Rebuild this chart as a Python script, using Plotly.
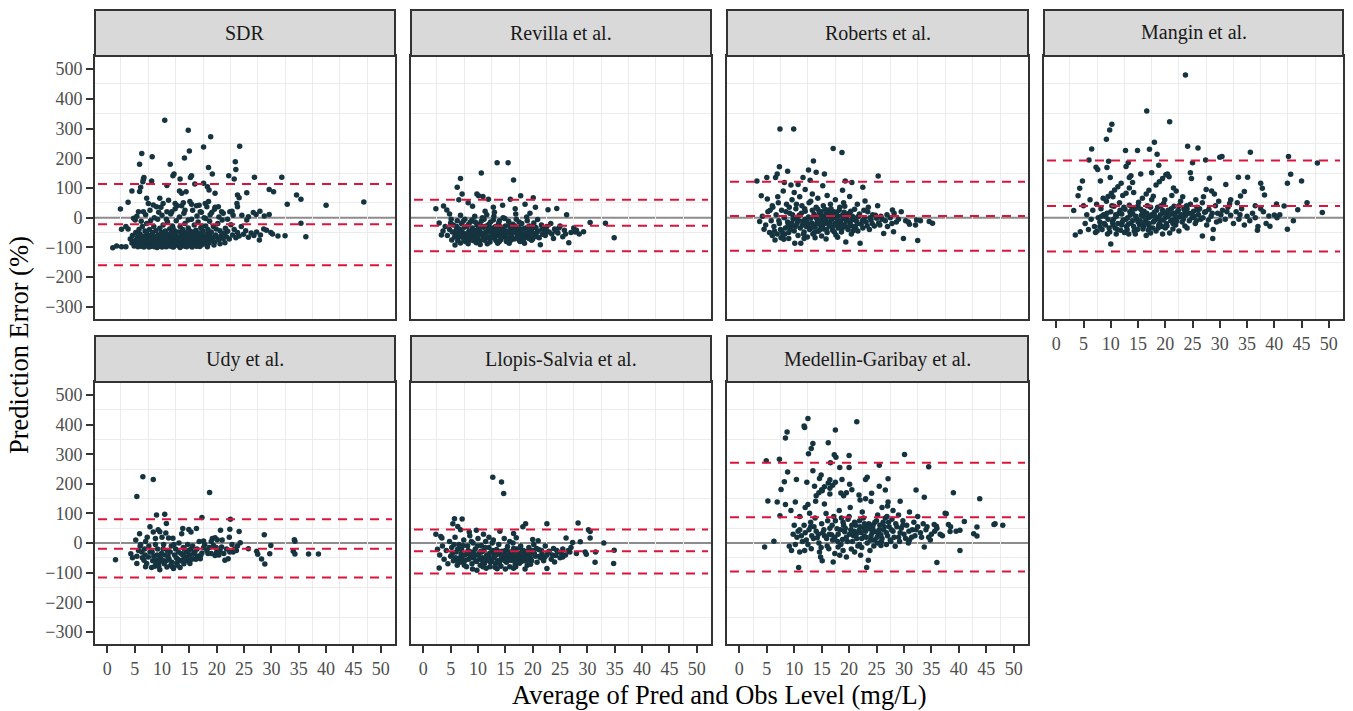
import plotly.graph_objects as go

W, H = 1353, 711

panel_names = ["SDR", "Revilla et al.", "Roberts et al.", "Mangin et al.",
               "Udy et al.", "Llopis-Salvia et al.", "Medellin-Garibay et al."]

# Bland-Altman limits (upper LoA, mean bias, lower LoA) in %
loa_upper = [113, 60, 121, 192, 80, 46, 271]
bias_mean = [-22, -27, 6, 39, -19, -28, 87]
loa_lower = [-160, -113, -111, -114, -116, -103, -96]

x_ticks = [0, 5, 10, 15, 20, 25, 30, 35, 40, 45, 50]
y_ticks = [-300, -200, -100, 0, 100, 200, 300, 400, 500]
x_minor = [2.5, 7.5, 12.5, 17.5, 22.5, 27.5, 32.5, 37.5, 42.5, 47.5, 52.5]
y_minor = [-250, -150, -50, 50, 150, 250, 350, 450]

sdr_pts = [
    (10.5,328),(14.8,294),(18.9,272),(17.6,238),(24.2,240),(6.3,216),(8.2,205),(5.9,180),(11.5,180),(14.1,201),
    (15.0,224),(23.4,188),(23.5,162),(18.5,169),(19.2,147),(12.2,147),(12.0,141),(15.4,141),(15.2,135),(13.3,130),
    (22.2,141),(23.2,130),(26.9,136),(31.9,136),(6.7,135),(6.6,129),(6.5,121),(8.1,123),(6.1,102),(5.9,88),(4.5,90),
    (3.8,52),(2.4,29),(10.9,108),(16.0,113),(17.6,116),(18.3,104),(18.6,93),(19.7,82),(13.2,90),(13.6,82),(14.4,87),
    (25.5,84),(23.8,76),(24.1,67),(29.6,95),(30.4,87),(34.6,76),(35.4,62),(32.9,45),(40.0,42),(46.9,53),(35.4,-19),
    (36.3,-64),(32.5,-61),(31.2,-62),(27.8,-75),(29.6,11),(28.7,6),(27.9,22),(26.7,17),(27.2,11),(25.8,3),(25.5,-8),
    (29.1,-42),(29.9,-50),(30.2,-55),(1.0,-101),(1.7,-95),(2.6,-98),(3.4,-98),(2.6,-39),(3.4,-30),(3.8,-38),(4.8,-2),
    (5.1,-8),(5.7,20),(6.6,20),
    (7.2,65),(7.5,48),(8.4,43),(9.0,37),(9.6,65),(10.2,48),(10.9,20),(11.2,59),(11.8,20),(12.4,48),(13.6,40),(13.9,50),
    (14.2,25),(15.1,54),(15.4,45),(16.3,40),(17.0,20),(17.9,48),(18.2,37),(18.5,54),(19.1,17),(19.7,35),(20.3,37),
    (20.9,20),(22.4,20),(23.0,8),(23.7,48),(23.8,37),(24.6,8),
    (4.2,-72),(4.5,-85),(4.6,-60),(4.9,-95),(5.0,-78),(5.2,-50),(5.3,-88),(5.5,-66),(5.6,-98),(5.8,-40),(5.9,-80),
    (6.0,-55),(6.1,-92),(6.3,-70),(6.4,-30),(6.5,-85),(6.7,-99),(6.8,-62),(6.9,-45),
    (7.0,-78),(7.1,-92),(7.2,-20),(7.3,-56),(7.4,-88),(7.5,-68),(7.6,-99),(7.7,-40),(7.8,-80),(7.9,-10),(8.0,-60),
    (8.1,-94),(8.2,-75),(8.3,-50),(8.4,-86),(8.5,-30),(8.6,-98),(8.7,-66),(8.8,-82),(8.9,-44),(9.0,-90),(9.1,-72),
    (9.2,-5),(9.3,-58),(9.4,-96),(9.5,-80),(9.6,-36),(9.7,-68),(9.8,-88),(9.9,-50),
    (10.0,-99),(10.1,-76),(10.2,-25),(10.3,-62),(10.4,-92),(10.5,-84),(10.6,-45),(10.7,-70),(10.8,-98),(10.9,-56),
    (11.0,-15),(11.1,-80),(11.2,-90),(11.3,-66),(11.4,-38),(11.5,-95),(11.6,-74),(11.7,-52),(11.8,-86),(11.9,-28),
    (12.0,-64),(12.1,-99),(12.2,-78),(12.3,-44),(12.4,-90),(12.5,-60),(12.6,-10),(12.7,-82),(12.8,-70),(12.9,-94),
    (13.0,-48),(13.1,-86),(13.2,-66),(13.3,-30),(13.4,-97),(13.5,-76),(13.6,-56),(13.7,-88),(13.8,-40),(13.9,-72),
    (14.0,-92),(14.1,-62),(14.2,-20),(14.3,-82),(14.4,-50),(14.5,-98),(14.6,-70),(14.7,-86),(14.8,-35),(14.9,-58),
    (15.0,-78),(15.1,-94),(15.2,-46),(15.3,-66),(15.4,-5),(15.5,-84),(15.6,-72),(15.7,-54),(15.8,-90),(15.9,-25),
    (16.0,-68),(16.1,-80),(16.2,-42),(16.3,-96),(16.4,-60),(16.5,-74),(16.6,-15),(16.7,-88),(16.8,-52),(16.9,-66),
    (17.0,-82),(17.1,-34),(17.2,-92),(17.3,-58),(17.4,-76),(17.5,-45),(17.6,-86),(17.7,0),(17.8,-64),(17.9,-72),
    (18.0,-28),(18.1,-90),(18.2,-55),(18.3,-80),(18.4,-40),(18.5,-68),(18.6,-85),(18.7,-12),(18.8,-60),(18.9,-76),
    (19.0,-48),(19.2,-70),(19.4,-30),(19.6,-82),(19.8,-58),(20.0,-66),(20.2,-20),(20.4,-74),(20.6,-44),(20.8,-60),
    (21.0,-8),(21.2,-70),(21.4,-52),(21.6,-36),(21.8,-64),(22.0,-46),(22.3,-72),(22.6,-24),(22.9,-58),(23.2,-40),
    (23.5,-68),(23.8,-50),(24.1,-62),(24.5,-30),(24.9,-56),(25.3,-44),(25.8,-66),(26.3,-52),(26.8,-60),(27.3,-48),
    (28.0,-58),(28.6,-38),
    (5.4,5),(6.2,-12),(7.0,10),(7.8,25),(8.6,0),(9.4,18),(10.0,8),(10.8,-5),(11.6,12),(12.4,30),(13.2,2),(14.0,15),
    (14.8,-8),(15.6,25),(16.4,6),(17.2,18),(18.0,-3),(18.8,10),(19.6,28),(20.4,2),(21.2,15),(22.0,-5),(22.8,22),
    (12.8,40),(9.8,35),(16.8,42),
    (6.2,-96),(7.9,-97),(9.1,-100),(10.6,-97),(11.9,-98),(13.3,-100),(14.2,-96),(15.5,-99),(16.9,-97),(18.3,-98),
    (19.5,-92),(20.6,-88),(21.5,-84),(8.9,-64),(10.4,-54),(12.0,-34),(13.7,-44),(15.9,-48),(17.4,-28),(19.9,-38),
]

revilla_pts = [
    (13.5,185),(15.5,185),(10.6,150),(16.5,127),(6.8,132),(6.2,102),(7.1,80),(9.8,80),(10.1,74),(10.9,71),(11.9,62),
    (17.8,74),(20.1,67),(15.9,62),(6.5,60),(8.2,50),(9.0,38),(12.8,35),(14.5,42),(16.8,30),(18.6,45),(20.5,35),
    (11.3,22),(13.0,18),(19.5,15),
    (2.3,30),(3.7,39),(4.3,26),(4.8,12),(5.1,-5),(2.9,-18),(3.3,-58),(3.6,-45),(4.0,-30),(4.4,-60),(4.8,-40),(5.2,-75),
    (5.5,-25),(5.8,-92),(5.9,-55),(6.2,-10),(6.4,-68),(6.6,-38),(6.8,-85),(7.0,-20),(7.2,-50),(7.4,-72),(7.6,-5),
    (7.8,-60),(8.0,-30),(8.2,-88),(8.4,-45),(8.6,-15),(8.8,-65),(9.0,-35),(9.2,-78),(9.4,5),(9.6,-52),(9.8,-25),
    (10.0,-70),(10.2,-42),(10.4,-90),(10.6,-12),(10.8,-58),(11.0,-32),(11.2,-76),(11.4,-48),(11.6,10),(11.8,-64),
    (12.0,-22),(12.2,-82),(12.4,-40),(12.6,-55),(12.8,-8),(13.0,-70),(13.2,-30),(13.4,-60),(13.6,-86),(13.8,-18),
    (14.0,-50),(14.2,-74),(14.4,-36),(14.6,0),(14.8,-62),(15.0,-28),(15.2,-80),(15.4,-45),(15.6,-12),(15.8,-68),
    (16.0,-38),(16.2,-56),(16.4,-22),(16.6,-72),(16.8,-48),(17.0,-5),(17.2,-60),(17.4,-32),(17.6,-78),(17.8,-44),
    (18.0,-20),(18.2,-58),(18.5,-86),(18.6,-36),(18.8,-66),(19.0,-10),(19.2,-50),(19.4,-28),(19.6,-62),(19.8,-40),
    (20.0,-72),(20.2,-18),(20.4,-54),(20.6,-34),(20.8,-64),(21.0,-46),(21.4,-91),(21.6,-25),(21.8,-56),(22.0,-40),
    (22.3,-60),(22.6,-30),(22.8,27),(23.0,-48),(23.3,-20),(23.8,-70),(24.0,-38),(24.4,31),(24.6,-52),(25.0,-28),
    (25.5,-64),(25.8,-42),(26.2,10),(26.6,-84),(27.0,-50),(27.5,-35),(28.0,-42),(28.5,-55),(29.3,-47),(30.5,-16),
    (33.3,-19),(34.9,-68),
    (6.0,-42),(7.0,-62),(8.0,-72),(9.0,-58),(10.0,-22),(11.0,-65),(12.0,-48),(13.0,-52),(14.0,-30),(15.0,-66),
    (16.0,-76),(17.0,-42),(18.0,-68),(19.0,-54),(12.5,-35),(13.5,-42),(14.5,-58),(15.5,-50),(16.5,-40),(17.5,-52),
    (11.5,-28),(10.5,-50),(9.5,-44),(8.5,-58),(7.5,-32),(6.5,-52),(5.0,-18),(6.8,8),(8.9,-8),(10.8,0),(12.9,5),
    (14.9,-3),(16.9,12),(18.9,2),(20.9,-6),(9.7,-84),(11.7,-88),(13.9,-80),(15.7,-86),(17.7,-80),(19.8,-76),
    (5.3,-48),(5.7,-65),(6.1,-30),(6.3,-78),(6.9,-45),(7.3,-12),(7.7,-80),(8.1,-52),(8.3,-22),(8.7,-75),(9.1,-48),
    (9.3,-68),(9.9,-60),(10.1,-35),(10.3,-80),(10.7,-30),(10.9,-72),(11.3,-58),(11.9,-40),(12.1,-70),(12.3,-15),
    (12.7,-62),(13.1,-45),(13.3,-78),(13.7,-25),(14.1,-65),(14.3,-52),(14.7,-42),(15.1,-55),(15.3,-72),(15.9,-30),
    (16.1,-62),(16.3,-48),(16.7,-28),(17.1,-70),(17.3,-50),(17.9,-58),(18.1,-38),(18.3,-75),(18.7,-52),(19.1,-32),
    (19.3,-70),(19.7,-45),(20.1,-58),(20.3,-30),(20.7,-50),(21.2,-68),(21.7,-38),(22.1,-52),(22.5,-45),(23.5,-55),
    (24.2,-45),(24.8,-35),(26.0,-55),(27.8,-48),(9.5,-15),(11.1,-5),(13.9,-10),(15.7,-20),(17.5,-15),
]

roberts_pts = [
    (7.4,298),(9.9,298),(17.1,233),(18.7,219),(13.5,191),(7.3,171),(8.8,156),(12.6,160),(14.0,153),(15.5,147),
    (25.3,140),(5.0,135),(6.6,135),(6.9,147),(11.6,135),(10.7,112),(9.4,110),(8.2,118),(12.9,126),(19.3,123),
    (20.5,118),(22.5,102),(18.8,92),(15.2,107),(20.1,71),(22.9,56),(25.2,40),(27.9,26),(10.0,85),(11.0,70),(12.0,95),
    (13.3,80),(14.3,65),(16.0,75),(8.0,90),(7.0,70),(17.5,60),(19.0,50),(21.5,45),(23.5,35),
    (3.2,123),(4.0,74),(5.1,63),(6.0,40),(3.7,-13),(4.5,-39),(4.2,5),(4.8,-25),(5.2,20),(5.5,-50),(5.8,-10),(6.1,35),
    (6.3,-30),(6.5,-75),(6.7,10),(6.9,-55),(7.1,50),(7.3,-20),(7.5,-40),(7.7,25),(7.9,-62),(8.1,-73),(8.2,0),
    (8.4,-35),(8.6,45),(8.8,-15),(9.0,-50),(9.2,15),(9.4,-28),(9.6,60),(9.8,-5),(10.0,-45),(10.1,-86),(10.3,30),
    (10.5,-20),(10.7,-60),(10.9,8),(11.1,-35),(11.2,-86),(11.4,40),(11.6,-12),(11.8,-48),(12.0,22),(12.2,-30),
    (12.4,-65),(12.6,2),(12.8,-40),(13.0,55),(13.2,-18),(13.4,-55),(13.6,12),(13.8,-32),(14.0,35),(14.2,-8),
    (14.4,-46),(14.6,18),(14.8,-25),(15.0,-62),(15.2,5),(15.4,-38),(15.6,28),(15.8,-15),(16.0,-50),(16.2,10),
    (16.4,-28),(16.6,45),(16.8,-5),(17.0,-42),(17.2,20),(17.4,-20),(17.6,-58),(17.8,0),(18.0,-35),(18.2,25),
    (18.4,-12),(18.6,-48),(18.8,8),(19.0,-25),(19.2,38),(19.4,-82),(19.6,-5),(19.8,-40),(20.0,15),(20.2,-18),
    (20.4,-55),(20.6,5),(20.8,-30),(21.0,28),(21.3,-10),(21.6,-45),(21.9,12),(22.0,-86),(22.2,-22),(22.5,-35),
    (22.8,0),(23.1,-15),(23.4,20),(23.7,-40),(24.0,-8),(24.3,10),(24.6,-28),(25.0,-2),(25.4,-18),(25.8,5),
    (26.3,-53),(26.6,-10),(27.0,-30),(27.5,0),(28.1,-47),(28.2,15),(28.6,-15),(29.0,-5),(29.5,20),(29.9,-70),
    (30.3,-10),(31.0,-22),(32.1,-25),(32.3,-8),(32.5,-77),(34.6,-13),(35.2,-19),
    (12.0,-5),(13.0,-2),(14.0,0),(15.0,-8),(16.0,2),(17.0,-3),(18.0,6),(14.5,-12),(15.5,-20),(16.5,-15),(17.5,-25),
    (13.5,-28),(12.5,-22),(11.5,-25),(10.5,-5),(9.5,-20),(18.5,-20),(19.5,-12),(20.5,-8),(21.5,-20),(15.8,12),
    (16.8,15),(14.8,8),(9.0,-70),(11.8,-70),(13.8,-68),(15.8,-72),(17.9,-66),(6.0,-60),(7.6,-68),
    (8.3,-55),(8.5,20),(8.9,-25),(9.1,35),(9.3,-40),(9.7,10),(10.2,-30),(10.4,45),(10.8,-10),(11.3,15),(11.7,-55),
    (11.9,30),(12.3,-15),(12.7,50),(13.1,-35),(13.3,25),(13.7,-50),(13.9,5),(14.1,-20),(14.3,28),(14.7,-40),(14.9,20),
    (15.1,-30),(15.3,40),(15.7,-5),(15.9,-40),(16.1,25),(16.3,-22),(16.7,30),(16.9,-32),(17.1,8),(17.3,-48),(17.7,18),
    (17.9,-12),(18.1,-28),(18.3,35),(18.7,-38),(18.9,-3),(19.1,18),(19.3,-30),(19.7,10),(20.1,-28),(20.3,22),
    (20.7,-45),(20.9,0),(21.2,-35),(21.7,5),(22.4,-10),(22.7,25),(23.3,-28),(23.8,0),(24.2,-20),(24.8,8),(25.6,-25),
    (26.0,-5),(26.9,10),(27.8,-20),(30.8,-15),(33.0,-10),(5.6,25),(6.4,-45),(7.2,-10),(7.8,-48),
]

mangin_pts = [
    (23.7,480),(16.6,359),(20.8,323),(10.2,314),(9.8,295),(9.2,264),(18.0,254),(6.5,231),(12.7,226),(14.9,226),
    (17.1,230),(24.1,240),(26.0,234),(35.6,220),(18.5,213),(6.0,194),(9.6,190),(13.2,185),(25.0,185),(27.4,194),
    (30.0,203),(30.4,206),(42.6,206),(47.9,184),(7.3,170),(7.6,162),(9.3,169),(18.8,176),(12.8,172),(17.5,151),
    (13.7,141),(13.4,135),(15.5,147),(20.4,147),(20.7,138),(24.6,151),(24.8,132),(28.1,133),(33.4,136),(35.1,136),
    (43.0,146),(45.0,123),(42.4,116),(37.5,116),(37.8,99),(38.2,76),(34.5,88),(33.8,73),(31.1,112),(8.1,123),
    (9.9,135),(4.8,123),(4.3,99),(4.0,74),(3.2,24),(3.5,-58),(4.4,-47),(10.0,-89),(26.8,-62),(28.7,-70),(36.9,-42),
    (39.2,-29),(42.4,-39),(46.0,50),(44.3,27),(48.8,17),(41.8,39),(40.4,46),(40.0,9),(39.0,6),
    (9.5,71),(10.1,82),(10.7,93),(11.3,104),(11.9,116),(12.8,82),(13.4,100),(14.0,118),(18.3,110),(18.9,121),
    (19.5,132),(20.1,144),(16.5,80),(17.0,92),(21.5,100),(22.0,90),(27.5,95),(28.5,90),(29.0,80),(32.0,60),
    (36.5,40),(38.0,20),(37.5,30),
    (5.0,40),(5.3,-20),(5.6,10),(5.9,-40),(6.2,60),(6.4,-5),(6.7,25),(7.0,-30),(7.2,-50),(7.4,45),(7.7,0),(8.0,-15),
    (8.2,30),(8.4,-40),(8.7,10),(9.0,-25),(9.2,55),(9.5,-5),(9.8,-48),(10.0,20),(10.3,-15),(10.6,38),(10.8,-35),
    (11.0,5),(11.3,-20),(11.6,50),(11.8,-42),(12.0,12),(12.3,-8),(12.6,28),(12.9,-30),(13.1,0),(13.4,42),(13.7,-18),
    (14.0,15),(14.3,-45),(14.5,30),(14.8,-5),(15.1,52),(15.3,-25),(15.6,8),(15.9,-38),(16.1,22),(16.4,-10),
    (16.7,40),(17.0,-28),(17.2,3),(17.5,60),(17.8,-15),(18.0,18),(18.3,-45),(18.6,35),(18.9,-5),(19.1,10),
    (19.4,-30),(19.7,48),(20.0,0),(20.2,-20),(20.5,25),(20.8,-52),(21.0,12),(21.3,-8),(21.6,38),(21.9,-25),
    (22.2,20),(22.5,2),(22.8,55),(23.1,-15),(23.4,30),(23.7,8),(24.0,-35),(24.3,15),(24.6,45),(24.9,0),(25.2,22),
    (25.5,-20),(25.8,35),(26.1,10),(26.5,-5),(26.8,50),(27.2,18),(27.6,-25),(28.0,28),(28.4,5),(28.8,-40),(29.2,40),
    (29.6,15),(30.0,-10),(30.5,25),(31.0,-5),(31.5,35),(32.0,8),(32.5,-20),(33.0,20),(33.5,-5),(34.0,30),(34.5,-25),
    (35.0,5),(36.0,15),(37.0,-30),(38.5,-20),(40.5,0),(41.0,10),(43.5,-10),
    (12.0,-25),(13.0,-40),(14.0,-10),(15.0,-15),(16.0,-30),(17.0,-20),(18.0,-10),(19.0,-18),(20.0,-35),(21.0,-10),
    (22.0,-5),(23.0,5),(16.0,5),(17.5,10),(19.5,25),(21.5,15),(10.5,-5),(9.0,5),(8.0,-30),(11.5,15),(13.5,20),
    (15.5,28),(18.5,0),(20.5,5),(22.5,40),(24.0,30),(26.0,25),(14.5,-55),(16.5,-60),(12.5,-50),(19.5,-55),(11.0,-55),
    (22.5,-45),(7.5,-45),(8.6,65),(10.4,70),(12.2,75),(14.2,85),(15.8,65),(17.8,72),(19.9,60),(21.2,75),(23.2,70),
    (25.6,60),(27.0,70),(29.8,55),(31.8,48),(33.2,50),(14.9,-40),(16.9,-42),(18.7,-35),(21.4,-38),(23.6,-28),
    (8.3,5),(8.8,-20),(9.3,15),(9.7,-35),(10.2,40),(10.4,-25),(10.9,10),(11.2,-40),(11.7,25),(12.1,-15),(12.4,35),
    (12.8,-5),(13.2,-22),(13.6,10),(13.9,30),(14.2,-30),(14.6,5),(15.0,40),(15.4,-10),(15.8,20),(16.2,-20),(16.6,15),
    (16.9,0),(17.3,35),(17.7,-35),(18.1,5),(18.4,25),(18.8,-25),(19.2,40),(19.6,-8),(19.9,15),(20.3,-28),(20.7,10),
    (21.1,30),(21.4,-20),(21.8,5),(22.1,-12),(22.4,25),(22.9,10),(23.3,-5),(23.6,20),(23.9,40),(24.4,-10),(24.8,15),
    (25.3,5),(25.7,-10),(26.3,30),(26.9,0),(27.4,20),(27.9,-8),(28.6,15),(29.4,-15),(30.2,10),(31.3,20),(33.7,10),
    (35.5,-10),(36.5,0),(9.4,-55),(13.3,-55),(17.3,-52),
]

udy_pts = [
    (1.5,-56),(6.5,224),(8.4,215),(5.4,157),(18.7,171),(9.0,95),(10.5,97),(17.3,86),(22.5,80),(10.8,66),(7.8,55),
    (13.8,49),(14.9,46),(15.3,37),(16.3,49),(20.7,43),(22.4,47),(24.1,39),(5.9,31),(8.4,37),(9.6,38),(10.7,34),
    (8.8,15),(11.2,17),(12.0,16),(13.6,31),(17.6,7),(19.2,15),(19.7,18),(20.1,11),(22.3,20),(24.3,1),(25.8,-19),
    (28.7,28),(29.9,-8),(29.7,-36),(27.3,-28),(27.5,-38),(28.2,-54),(28.8,-71),(34.2,11),(34.3,6),(34.0,-28),
    (34.3,-37),(36.8,-37),(38.6,-37),(4.3,-36),(4.6,-50),(5.4,-69),(5.4,-45),(6.3,-30),(6.7,-58),(7.2,-69),(7.5,-47),
    (8.1,-83),(8.7,-78),(9.0,-58),(9.6,-90),(10.1,-58),(10.9,-81),(11.6,-75),(12.1,-86),(12.7,-67),(13.3,-83),
    (14.0,-70),(15.1,-69),(14.2,-47),(15.7,-53),(17.0,-53),(17.3,-34),(18.2,-25),(19.4,-8),(19.7,-42),(20.0,-30),
    (20.9,-13),(21.5,-58),(22.1,-53),(23.0,-30),(23.3,-20),(23.6,-25),
    (5.2,10),(6.0,-10),(6.8,-20),(7.0,5),(7.6,-10),(8.2,-30),(8.5,-45),(9.2,-20),(9.5,-65),(9.9,-35),(10.3,-5),
    (10.6,-40),(11.0,-25),(11.3,-55),(11.7,-10),(12.3,-40),(12.5,-20),(12.9,-55),(13.1,0),(13.5,-35),(13.9,-15),
    (14.4,-30),(14.7,-5),(15.0,-40),(15.3,-20),(15.6,-10),(16.0,-30),(16.5,-45),(16.8,5),(17.8,-5),(18.6,-15),
    (19.0,-35),(20.4,-40),(21.0,10),(21.8,-20),(22.8,-5),(10.0,20),(9.3,45),(7.3,20),(6.1,-5),(12.8,-75),(11.8,-65),
    (8.9,-72),(10.4,-70),(13.7,-58),(14.6,-60),(16.2,-55),
    (5.7,-25),(6.4,-50),(6.9,-40),(7.8,-30),(8.3,-60),(8.8,-5),(9.1,-40),(9.7,-50),(10.2,-20),(10.8,-60),(11.1,-45),
    (11.5,-30),(11.9,-80),(12.2,-5),(12.6,-50),(13.0,-30),(13.4,-60),(13.8,-40),(14.1,-20),(14.5,-50),(14.9,-25),
    (15.4,-55),(15.8,-35),(16.4,-20),(17.1,-40),(17.6,-15),(18.4,-35),(19.0,5),(19.9,-15),(20.6,-25),(21.3,-35),
    (22.4,-30),(23.8,-10),(7.0,-80),(9.4,-78),
]

llopis_pts = [
    (12.7,222),(14.3,206),(14.7,167),(18.7,65),(22.6,65),(28.3,68),(5.7,82),(7.1,81),(5.4,65),(6.3,56),(2.3,30),
    (3.2,22),(3.4,17),(9.7,43),(8.4,37),(30.2,45),(30.5,39),(30.5,17),(26.1,17),(27.3,2),(28.7,4),(33.0,0),(34.9,-24),
    (34.8,-69),(31.4,-65),(31.5,-30),(29.6,-30),(29.8,-38),(26.8,-30),(25.5,-47),(22.6,-86),(24.0,-64),(2.9,-84),
    (2.6,-21),(9.8,-92),(18.6,-88),
    (3.0,-40),(3.5,-10),(3.8,-55),(4.2,-25),(4.5,-70),(4.8,5),(5.0,-45),(5.2,-15),(5.5,-60),(5.8,20),(6.0,-30),
    (6.2,-75),(6.5,-5),(6.7,-50),(7.0,-20),(7.2,-65),(7.4,10),(7.6,-40),(7.9,-80),(8.1,-10),(8.3,-55),(8.5,25),
    (8.7,-30),(8.9,-70),(9.1,0),(9.3,-45),(9.5,-20),(9.7,-62),(10.0,15),(10.2,-35),(10.4,-75),(10.6,-8),(10.8,-50),
    (11.0,-25),(11.2,-68),(11.4,5),(11.6,-40),(11.8,-58),(12.0,-15),(12.2,-80),(12.4,-32),(12.6,-52),(12.8,10),
    (13.0,-45),(13.2,-70),(13.4,-22),(13.6,-60),(13.8,-5),(14.0,-38),(14.2,-78),(14.4,-28),(14.6,-55),(14.8,15),
    (15.0,-42),(15.2,-65),(15.4,-12),(15.6,-50),(15.8,-80),(16.0,-30),(16.2,-58),(16.4,0),(16.6,-45),(16.8,-72),
    (17.0,-20),(17.2,-55),(17.4,-35),(17.6,-68),(17.8,-10),(18.0,-48),(18.3,-25),(18.5,-60),(18.8,-40),(19.0,-75),
    (19.3,-15),(19.6,-52),(19.9,-30),(20.2,-5),(20.5,-45),(20.8,-65),(21.1,-22),(21.4,-50),(21.7,-35),(22.0,-60),
    (22.3,-10),(22.6,-40),(23.0,-28),(23.4,-55),(23.8,-18),(24.2,-42),(24.6,-30),(25.0,-50),(25.5,-20),(26.0,-40),
    (27.0,-15),(28.0,-35),(12.0,20),(17.0,18),(20.0,12),(21.0,8),(11.0,30),(6.8,45),(18.2,55),(16.5,32),(14.0,40),
    (9.0,-88),(15.0,-88),(11.5,-85),(13.5,-87),(16.5,-85),
    (8.0,-35),(9.0,-50),(10.0,-40),(11.0,-55),(12.0,-48),(13.0,-30),(14.0,-60),(15.0,-25),(16.0,-45),(17.0,-62),
    (18.0,-30),(19.0,-58),(20.0,-25),(7.0,-52),(6.0,-58),(10.5,-28),(12.5,-62),(14.5,-42),(16.5,-18),(18.5,-48),
    (5.3,-35),(5.6,-5),(5.9,-50),(6.3,-20),(6.6,-65),(6.9,-35),(7.3,-8),(7.7,-58),(8.2,-25),(8.6,-45),(9.2,-30),
    (9.6,-60),(9.9,-10),(10.3,-55),(10.7,-30),(10.9,-62),(11.3,-15),(11.7,-48),(12.1,-35),(12.3,-65),(12.7,-25),
    (12.9,-50),(13.3,-40),(13.7,-28),(13.9,-68),(14.3,-48),(14.7,-35),(14.9,-60),(15.3,-22),(15.7,-38),(15.9,-58),
    (16.3,-40),(16.7,-28),(16.9,-55),(17.3,-45),(17.7,-15),(17.9,-62),(18.4,-35),(18.7,-55),(19.1,-28),(19.5,-42),
    (19.8,-60),(20.3,-35),(20.7,-18),(21.2,-45),(21.6,-25),(22.2,-48),(22.8,-32),(23.6,-40),(24.4,-25),(25.3,-35),
    (26.5,-25),(7.5,-75),(10.9,-80),(13.1,-82),(16.9,-80),(19.6,-72),(8.8,5),(12.6,0),(15.8,5),
]

medellin_pts = [
    (12.5,421),(21.4,410),(11.9,390),(11.8,395),(17.5,382),(8.7,375),(8.4,355),(13.4,336),(13.1,319),(16.2,339),
    (12.6,302),(30.1,299),(20.0,296),(17.3,298),(17.6,290),(4.9,278),(7.3,283),(16.6,271),(20.0,255),(18.3,255),
    (25.5,263),(34.5,258),(8.8,240),(13.4,244),(23.3,222),(23.0,215),(27.1,217),(14.9,230),(14.6,218),(16.5,214),
    (16.2,203),(18.7,215),(20.1,199),(8.2,207),(10.4,215),(12.3,205),(7.6,181),(13.7,192),(15.1,177),(16.5,166),
    (18.5,169),(21.8,162),(25.5,192),(26.6,179),(24.1,168),(32.2,179),(33.7,155),(39.0,170),(43.8,150),(5.2,142),
    (6.9,139),(8.4,130),(10.2,139),(9.4,110),(7.4,92),(12.8,101),(13.9,141),(15.5,132),(29.3,141),(27.1,139),
    (4.6,-13),(6.3,6),(10.8,-83),(15.1,-60),(17.1,-64),(23.2,-83),(23.5,-58),(36.0,-66),(40.2,-25),(33.7,-13),
    (46.6,65),(46.4,63),(48.0,60),(43.3,54),(42.7,31),(43.3,24),(41.0,73),(40.2,43),(38.4,39),(37.5,101),(37.7,99),
    (38.1,63),(35.5,63),(35.9,57),(34.5,20),(34.8,10),(9.5,-25),(9.1,-11),(11.0,-30),(11.9,-25),(13.1,-19),
    (14.8,-47),(16.3,-19),(18.0,-13),(18.3,-41),(19.5,-47),(21.0,-30),(22.1,-41),(22.3,-15),(25.8,-8),(28.4,-11),
    (14.0,160),(14.5,170),(15.0,180),(15.5,190),(16.5,185),(17.0,195),(17.5,205),(19.0,160),(19.5,170),(20.5,180),
    (22.0,145),(23.0,150),(24.0,140),(26.0,120),(27.0,125),(28.0,110),(29.0,95),(31.0,105),(32.5,90),(12.0,120),
    (12.5,130),(11.0,90),(10.0,60),(13.0,70),
    (9.8,30),(10.5,20),(11.0,45),(11.5,5),(12.0,35),(12.5,-5),(13.0,55),(13.5,15),(14.0,40),(14.5,0),(15.0,65),
    (15.5,25),(16.0,-10),(16.5,50),(17.0,10),(17.5,75),(18.0,30),(18.5,-5),(19.0,60),(19.5,20),(20.0,90),(20.3,45),
    (20.6,5),(21.0,70),(21.3,30),(21.6,-10),(22.0,55),(22.3,15),(22.6,85),(23.0,40),(23.3,0),(23.6,65),(24.0,25),
    (24.3,50),(24.6,10),(25.0,75),(25.3,35),(25.6,60),(26.0,15),(26.3,45),(26.6,85),(27.0,25),(27.3,55),(27.6,5),
    (28.0,40),(28.5,65),(29.0,20),(29.5,50),(30.0,30),(30.5,60),(31.0,10),(31.5,45),(32.0,25),(32.5,55),(33.0,35),
    (33.5,65),(34.0,45),(35.0,30),(36.0,50),(37.0,25),(38.5,55),(39.5,40),(15.2,35),(17.8,48),(19.2,38),(20.8,25),
    (21.8,42),(23.8,48),(24.8,38),(25.8,28),(22.8,22),(18.8,12),(16.8,28),(14.2,18),(12.2,10),(10.2,-5),(24.4,62),
    (26.2,70),(21.2,60),(19.8,80),(17.2,90),(15.8,100),(13.8,85),(18.2,110),(20.2,120),(22.4,105),(25.2,95),
    (27.8,80),(29.8,75),(31.8,70),(14.6,-30),(17.4,-35),(20.4,-20),(23.8,-25),(26.8,-5),(30.8,0),(24.5,-10),
    (27.5,10),(29.2,5),
    (15.4,45),(15.9,15),(16.4,30),(16.9,60),(17.4,20),(17.9,5),(18.4,45),(18.9,70),(19.3,50),(19.7,5),(20.1,30),
    (20.5,60),(20.9,40),(21.4,15),(21.9,75),(22.2,35),(22.7,50),(23.1,20),(23.5,55),(23.9,10),(24.2,35),(24.7,70),
    (25.1,20),(25.5,45),(25.9,5),(26.4,55),(26.8,35),(27.2,70),(27.7,45),(28.2,20),(28.7,55),(29.3,35),(29.8,60),
    (30.3,15),(30.9,40),(31.4,20),(32.2,45),(33.2,20),(34.2,55),(35.6,40),(36.6,30),(12.7,45),(13.2,25),(13.6,55),
    (14.4,30),(11.3,25),(10.7,40),(11.8,60),(16.1,75),(18.6,85),(22.8,65),(26.9,90),(14.9,-15),(18.9,-25),
    (21.9,-5),(25.2,0),
]

all_pts = [sdr_pts, revilla_pts, roberts_pts, mangin_pts, udy_pts, llopis_pts, medellin_pts]

# ---------------- layout geometry (pixels) ----------------
col_px = [(95, 395), (411, 711), (727, 1028), (1044, 1343)]
row_px = [(56, 319), (382, 644)]
strip_px = [(10, 56), (336, 382)]
grid_pos = [(0, 0), (0, 1), (0, 2), (0, 3), (1, 0), (1, 1), (1, 2)]
xlab_panels = {3, 4, 5, 6}
ylab_panels = {0, 4}

X_RANGE = [-2.25, 52.6]
Y_RANGE = [-341, 544]

FONT = "Liberation Serif"
PT_COLOR = "#15343F"
TICK_SIZE = 18

fig = go.Figure()
layout = dict(
    width=W, height=H, margin=dict(l=0, r=0, t=0, b=0),
    paper_bgcolor="white", plot_bgcolor="white", showlegend=False,
    font=dict(family=FONT, color="#4D4D4D", size=TICK_SIZE),
)
shapes = []
annotations = []

for i, (name, pts) in enumerate(zip(panel_names, all_pts)):
    r, c = grid_pos[i]
    n = "" if i == 0 else str(i + 1)
    x0, x1 = col_px[c]
    yt, yb = row_px[r]
    layout["xaxis" + n] = dict(
        domain=[x0 / W, x1 / W], anchor="y" + n, range=X_RANGE,
        tickmode="array", tickvals=x_ticks, showticklabels=(i in xlab_panels),
        ticks="outside" if i in xlab_panels else "", ticklen=7, tickwidth=2, tickcolor="#333333",
        showgrid=False, zeroline=False, showline=True, mirror=True, linecolor="#333333", linewidth=2,
        tickfont=dict(family=FONT, size=TICK_SIZE, color="#4D4D4D"),
        minor=dict(tickmode="array", tickvals=x_minor, showgrid=True, gridcolor="#EBEBEB", gridwidth=1.3, ticks=""),
        fixedrange=True,
    )
    layout["yaxis" + n] = dict(
        domain=[1 - yb / H, 1 - yt / H], anchor="x" + n, range=Y_RANGE,
        tickmode="array", tickvals=y_ticks, showticklabels=(i in ylab_panels),
        ticks="outside" if i in ylab_panels else "", ticklen=7, tickwidth=2, tickcolor="#333333",
        showgrid=False, zeroline=False, showline=True, mirror=True, linecolor="#333333", linewidth=2,
        tickfont=dict(family=FONT, size=TICK_SIZE, color="#4D4D4D"),
        minor=dict(tickmode="array", tickvals=y_minor, showgrid=True, gridcolor="#EBEBEB", gridwidth=1.3, ticks=""),
        fixedrange=True,
    )
    xs = [p[0] for p in pts]
    ys = [p[1] for p in pts]
    fig.add_trace(go.Scatter(
        x=xs, y=ys, mode="markers", xaxis="x" + n, yaxis="y" + n,
        marker=dict(size=5.5, color=PT_COLOR, line=dict(width=0)), hoverinfo="skip",
    ))
    # zero reference line
    shapes.append(dict(type="line", xref="x" + n + " domain", yref="y" + n,
                       x0=0, x1=1, y0=0, y1=0, layer="below",
                       line=dict(color="#8C8C8C", width=2)))
    for v in (loa_upper[i], bias_mean[i], loa_lower[i]):
        shapes.append(dict(type="line", xref="x" + n + " domain", yref="y" + n,
                           x0=0.01, x1=0.99, y0=v, y1=v, layer="above",
                           line=dict(color="#DC143C", width=2, dash="9px,7px")))
    # strip
    st, sb = strip_px[r]
    shapes.append(dict(type="rect", xref="paper", yref="paper",
                       x0=x0 / W, x1=x1 / W, y0=1 - sb / H, y1=1 - st / H,
                       fillcolor="#D9D9D9", line=dict(color="#333333", width=2), layer="above"))
    annotations.append(dict(text=name, xref="paper", yref="paper",
                            x=(x0 + x1) / 2 / W, y=1 - (st + sb) / 2 / H,
                            xanchor="center", yanchor="middle", showarrow=False,
                            font=dict(family=FONT, size=20, color="#1A1A1A")))

annotations.append(dict(text="Average of Pred and Obs Level (mg/L)", xref="paper", yref="paper",
                        x=719 / W, y=1 - 695 / H, xanchor="center", yanchor="middle", showarrow=False,
                        font=dict(family=FONT, size=26.5, color="black")))
annotations.append(dict(text="Prediction Error (%)", xref="paper", yref="paper",
                        x=19 / W, y=1 - 345 / H, xanchor="center", yanchor="middle", showarrow=False,
                        textangle=-90, font=dict(family=FONT, size=26.5, color="black")))

layout["shapes"] = shapes
layout["annotations"] = annotations
fig.update_layout(**layout)
fig.write_html("out.html")
